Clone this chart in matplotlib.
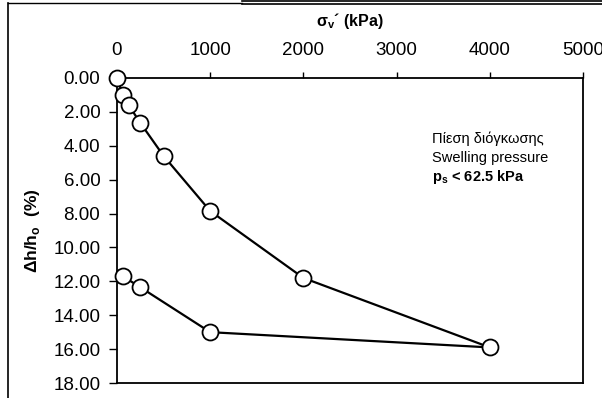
import numpy as np
import matplotlib.pyplot as plt
from matplotlib.lines import Line2D
from matplotlib.ticker import FormatStrFormatter

plt.rcParams['font.family'] = ['Liberation Sans', 'DejaVu Sans']

# τάση (kPa) και παραμόρφωση (%) - φόρτιση και αποφόρτιση
sigma_v = [0, 62.5, 125, 250, 500, 1000, 2000, 4000, 1000, 250, 62.5]
dh_h0 = [0.0, 1.0, 1.6, 2.65, 4.6, 7.85, 11.8, 15.9, 15.0, 12.35, 11.7]
x_ticks = [0, 1000, 2000, 3000, 4000, 5000]
y_ticks = [0, 2, 4, 6, 8, 10, 12, 14, 16, 18]

W, H = 602, 398
fig = plt.figure(figsize=(W/100, H/100), dpi=100)
ax = fig.add_axes([117/W, 1-383/H, (583-117)/W, (383-78)/H])

ax.plot(sigma_v, dh_h0, c="k", lw=1.6, marker="o", ms=11.5,
        mfc="white", mec="k", mew=1.3, clip_on=False, zorder=3)

ax.set_xlim(0, 5000)
ax.set_ylim(18, 0)
ax.set_xticks(x_ticks)
ax.set_yticks(y_ticks)
ax.yaxis.set_major_formatter(FormatStrFormatter("%.2f"))
ax.xaxis.tick_top()
ax.xaxis.set_label_position("top")
ax.tick_params(axis="x", direction="out", length=4, width=1, labelsize=13.5, pad=10)
ax.tick_params(axis="y", direction="out", length=6, width=1, labelsize=13.5, pad=6)
for s in ax.spines.values():
    s.set_linewidth(1.3)

ax.set_xlabel(r"σ$_\mathregular{v}$´ (kPa)", fontsize=11.5, fontweight="bold", labelpad=11)
ax.set_ylabel(r"Δh/h$_\mathregular{o}$  (%)", fontsize=12.5, fontweight="bold", labelpad=8)

ax.text(0.676, 0.80, "Πίεση διόγκωσης", transform=ax.transAxes, fontsize=10.5, va="center")
ax.text(0.676, 0.738, "Swelling pressure", transform=ax.transAxes, fontsize=10.5, va="center")
ax.text(0.676, 0.676, r"p$_\mathregular{s}$ < 62.5 kPa", transform=ax.transAxes,
        fontsize=10.5, fontweight="bold", va="center")

# cadre du document
def ligne(x, y, lw):
    fig.add_artist(Line2D([xx/W for xx in x], [1-yy/H for yy in y],
                          transform=fig.transFigure, c="k", lw=lw))

ligne([8, 8], [3, 398], 1.2)
ligne([8, 242], [3, 3], 1.0)
ligne([242, 602], [1, 1], 1.2)
ligne([242, 602], [4, 4], 1.2)

fig.savefig("out.png", dpi=100)
